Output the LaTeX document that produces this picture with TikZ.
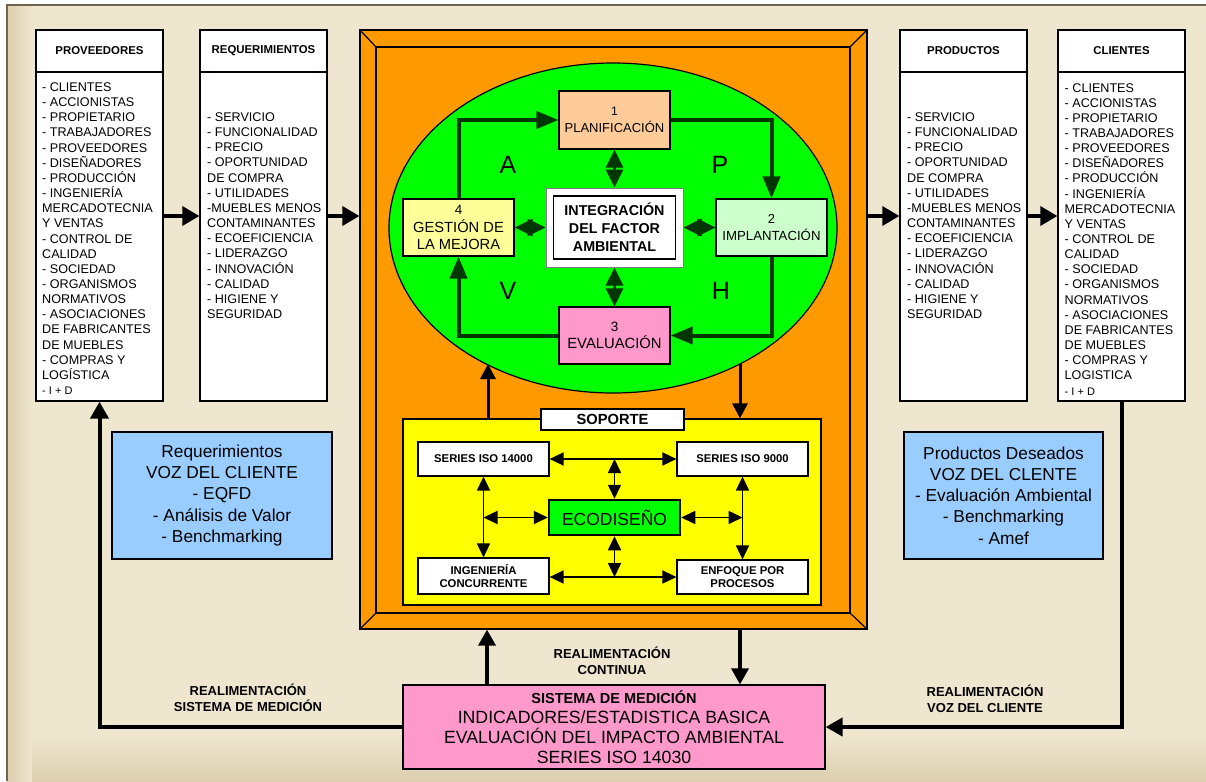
\documentclass[tikz,border=0pt]{standalone}
\usepackage{fontspec}
\setmainfont{Liberation Sans}
\usetikzlibrary{shapes.geometric,arrows.meta,calc}
\definecolor{bg}{HTML}{EFE6CF}
\definecolor{bgdark}{HTML}{DCCFAF}
\definecolor{frameline}{HTML}{6E6450}
\definecolor{orng}{HTML}{FF9900}
\definecolor{ellgreen}{HTML}{00FF00}
\definecolor{dkgreen}{RGB}{0,55,0}
\definecolor{peach}{HTML}{FFCC99}
\definecolor{lyellow}{HTML}{FFFF99}
\definecolor{lgreen}{HTML}{CCFFCC}
\definecolor{pinkbox}{HTML}{FF99CC}
\definecolor{bluebox}{HTML}{99CCFF}
\definecolor{yel}{HTML}{FFFF00}
\begin{document}
\begin{tikzpicture}[x=1pt,y=-1pt]
\tikzset{
 bx/.style={draw, line width=1.3pt, inner sep=0pt, align=center},
 hdr/.style={bx, fill=white, minimum width=127pt, minimum height=42pt, font=\bfseries\fontsize{11.4}{13}\selectfont},
 bodybox/.style={bx, fill=white, minimum width=127pt, minimum height=329pt},
 lst/.style={anchor=north west, inner sep=0pt, align=left, font=\fontsize{12.6}{15.15}\selectfont},
 bigarr/.style={line width=3.5pt, -{Triangle[length=17pt,width=19pt]}},
 cyc/.style={draw=dkgreen, line width=4pt, -{Triangle[length=22pt,width=17pt]}},
 dbl/.style={draw=dkgreen, line width=3pt, {Triangle[length=18pt,width=17pt]}-{Triangle[length=18pt,width=17pt]}},
 sarr/.style={line width=1.6pt, {Triangle[length=14pt,width=13pt]}-{Triangle[length=14pt,width=13pt]}},
 fbarr/.style={line width=4pt, -{Triangle[length=17pt,width=18pt]}},
 lbl/.style={font=\bfseries\fontsize{13}{16}\selectfont, align=center, inner sep=0pt},
 cycbox/.style={bx, line width=1.2pt, minimum width=111pt, minimum height=57pt},
 sopbox/.style={bx, fill=white, line width=1.2pt, minimum width=131pt, minimum height=35pt, font=\bfseries\fontsize{11.3}{13.7}\selectfont},
 bluestyle/.style={bx, fill=bluebox, line width=1.2pt, minimum height=127pt, font=\fontsize{17.3}{21.3}\selectfont},
}
% background
\useasboundingbox (0,0) rectangle (1206,781);
\fill[white] (0,0) rectangle (1206,781);
\fill[bg] (7,5) rectangle (1206,781);
\shade[top color=bg, bottom color=bgdark] (7,735) rectangle (1206,781);
\shade[left color=bgdark, right color=bg] (7,5) rectangle (32,781);
\draw[frameline, line width=1.5pt] (7,781) -- (7,5) -- (1206,5);

% left and right columns
\node[hdr] (provh) at (99.5,51) {PROVEEDORES};
\node[bodybox] (provb) at (99.5,236.5) {};
\node[hdr] (reqh) at (263.5,51) {REQUERIMIENTOS};
\node[bodybox] (reqb) at (263.5,236.5) {};
\node[hdr] (prodh) at (963.5,51) {PRODUCTOS};
\node[bodybox] (prodb) at (963.5,236.5) {};
\node[hdr] (clih) at (1121.5,51) {CLIENTES};
\node[bodybox] (clib) at (1121.5,236.5) {};

\node[lst] (provl) at (42,82.5) {- CLIENTES\\- ACCIONISTAS\\- PROPIETARIO\\- TRABAJADORES\\- PROVEEDORES\\- DISEÑADORES\\- PRODUCCIÓN\\- INGENIERÍA\\MERCADOTECNIA\\Y VENTAS\\- CONTROL DE\\CALIDAD\\- SOCIEDAD\\- ORGANISMOS\\NORMATIVOS\\- ASOCIACIONES\\DE FABRICANTES\\DE MUEBLES\\- COMPRAS Y\\LOGÍSTICA\\{\fontsize{11}{15.15}\selectfont - I + D}};
\node[lst] (clil) at (1064.5,83) {- CLIENTES\\- ACCIONISTAS\\- PROPIETARIO\\- TRABAJADORES\\- PROVEEDORES\\- DISEÑADORES\\- PRODUCCIÓN\\- INGENIERÍA\\MERCADOTECNIA\\Y VENTAS\\- CONTROL DE\\CALIDAD\\- SOCIEDAD\\- ORGANISMOS\\NORMATIVOS\\- ASOCIACIONES\\DE FABRICANTES\\DE MUEBLES\\- COMPRAS Y\\LOGISTICA\\{\fontsize{11}{15.15}\selectfont - I + D}};
\node[lst] (reql) at (207,112.5) {- SERVICIO\\- FUNCIONALIDAD\\- PRECIO\\- OPORTUNIDAD\\DE COMPRA\\- UTILIDADES\\-MUEBLES MENOS\\CONTAMINANTES\\- ECOEFICIENCIA\\- LIDERAZGO\\- INNOVACIÓN\\- CALIDAD\\- HIGIENE Y\\SEGURIDAD};
\node[lst] (prodl) at (907,112.5) {- SERVICIO\\- FUNCIONALIDAD\\- PRECIO\\- OPORTUNIDAD\\DE COMPRA\\- UTILIDADES\\-MUEBLES MENOS\\CONTAMINANTES\\- ECOEFICIENCIA\\- LIDERAZGO\\- INNOVACIÓN\\- CALIDAD\\- HIGIENE Y\\SEGURIDAD};

% orange frame
\node[draw, line width=1.2pt, fill=orng, minimum width=507pt, minimum height=599pt, inner sep=0pt] (frame) at (613.5,329.5) {};
\node[draw, line width=1.2pt, fill=orng, minimum width=474pt, minimum height=566pt, inner sep=0pt] (frin) at (613,330) {};
\draw[line width=1.2pt] (frame.north west) -- (frin.north west);
\draw[line width=1.2pt] (frame.north east) -- (frin.north east);
\draw[line width=1.2pt] (frame.south west) -- (frin.south west);
\draw[line width=1.2pt] (frame.south east) -- (frin.south east);

% arrows between columns
\coordinate (ya) at (0,216);
\draw[bigarr] (provb.east |- ya) -- (reqb.west |- ya);
\draw[bigarr] (reqb.east |- ya) -- (frame.west |- ya);
\draw[bigarr] (frame.east |- ya) -- (prodb.west |- ya);
\draw[bigarr] (prodb.east |- ya) -- (clib.west |- ya);

% ellipse
\node[ellipse, draw, line width=1.2pt, fill=ellgreen, minimum width=448pt, minimum height=330pt, inner sep=0pt] (ell) at (613,228) {};

\node[cycbox, fill=peach, minimum height=58pt, font=\fontsize{13}{16.7}\selectfont] (plan) at (614.5,120) {{\fontsize{12.2}{16.7}\selectfont 1}\\PLANIFICACIÓN};
\node[cycbox, fill=lyellow, font=\fontsize{14.7}{17.5}\selectfont] (gest) at (458.5,227.5) {{\fontsize{13.5}{17.5}\selectfont 4}\\GESTIÓN DE\\LA MEJORA};
\node[cycbox, fill=lgreen, font=\fontsize{13.2}{16.5}\selectfont] (impl) at (771.5,227.5) {{\fontsize{13}{16.5}\selectfont 2}\\IMPLANTACIÓN};
\node[cycbox, fill=pinkbox, font=\fontsize{14.8}{17}\selectfont] (eval) at (614.5,335.5) {{\fontsize{13.5}{17}\selectfont 3}\\EVALUACIÓN};
\node[draw=gray, line width=1pt, fill=white, minimum width=137pt, minimum height=79pt, inner sep=0pt] (integ) at (614.5,227.5) {};
\node[bx, line width=1.2pt, fill=white, minimum width=122pt, minimum height=63pt, font=\bfseries\fontsize{14.3}{18}\selectfont] (integin) at (614.5,227.5) {INTEGRACIÓN\\DEL FACTOR\\AMBIENTAL};

\draw[cyc] (gest.north) |- (plan.west);
\draw[cyc] (plan.east) -| (impl.north);
\draw[cyc] (impl.south) |- (eval.east);
\draw[cyc] (eval.west) -| (gest.south);

\draw[dbl] (plan.south) -- (integ.north);
\draw[dbl] (integ.south) -- (eval.north);
\draw[dbl] (gest.east) -- (integ.west);
\draw[dbl] (integ.east) -- (impl.west);

\node[font=\fontsize{25}{25}\selectfont, inner sep=0pt] (la) at (508,165) {A};
\node[font=\fontsize{25}{25}\selectfont, inner sep=0pt] (lp) at (720,165) {P};
\node[font=\fontsize{25}{25}\selectfont, inner sep=0pt] (lv) at (508,291) {V};
\node[font=\fontsize{25}{25}\selectfont, inner sep=0pt] (lh) at (721,291) {H};

% soporte
\node[bx, fill=yel, line width=1.2pt, minimum width=418pt, minimum height=186pt] (sop) at (612,512) {};
\node[bx, fill=white, line width=1.2pt, minimum width=143pt, minimum height=21pt, font=\bfseries\fontsize{14.7}{16}\selectfont] (soplab) at (612.5,419.5) {SOPORTE};
\node[sopbox, minimum height=34pt] (iso14) at (483.5,459) {SERIES ISO 14000};
\node[sopbox, minimum height=34pt] (iso9) at (742.5,459) {SERIES ISO 9000};
\node[bx, fill=ellgreen, line width=2.5pt, minimum width=131pt, minimum height=35pt, font=\fontsize{17.5}{20}\selectfont] (eco) at (614.5,517.5) {ECODISEÑO};
\node[sopbox, minimum height=36pt] (ing) at (483.5,576) {INGENIERÍA\\CONCURRENTE};
\node[sopbox, minimum height=34pt] (enf) at (742.5,577) {ENFOQUE POR\\PROCESOS};

\coordinate (lm) at (483.5,517.5);
\coordinate (rm) at (742.5,517.5);
\coordinate (tm) at (614.5,459);
\coordinate (bm) at (614.5,577);
\draw[sarr] (iso14.east) -- (iso9.west);
\draw[sarr] (ing.east |- bm) -- (enf.west |- bm);
\draw[sarr] (iso14.south) -- (ing.north);
\draw[sarr] (iso9.south) -- (enf.north);
\draw[sarr] (lm) -- (eco.west);
\draw[sarr] (eco.east) -- (rm);
\draw[sarr] (tm) -- (eco.north);
\draw[sarr] (eco.south) -- (bm);

% ellipse <-> soporte
\coordinate (eup) at (488,364);
\coordinate (edn) at (740,364);
\draw[line width=3pt, -{Triangle[length=15pt,width=15pt]}] (sop.north -| eup) -- (eup);
\draw[line width=3pt, -{Triangle[length=15pt,width=15pt]}] (edn) -- (sop.north -| edn);

% blue boxes
\node[bluestyle, minimum width=220pt] (bl) at (222,495.5) {Requerimientos\\VOZ DEL CLIENTE\\- EQFD\\- Análisis de Valor\\- Benchmarking};
\node[bluestyle, minimum width=199pt] (br) at (1003.5,495.5) {Productos Deseados\\VOZ DEL CLENTE\\- Evaluación Ambiental\\- Benchmarking\\- Amef};

% medicion
\node[bx, fill=pinkbox, line width=1.2pt, minimum width=422pt, minimum height=84pt, font=\fontsize{17.7}{20}\selectfont] (med) at (614,727) {{\bfseries\fontsize{14.5}{17}\selectfont SISTEMA DE MEDICIÓN}\\INDICADORES/ESTADISTICA BASICA\\EVALUACIÓN DEL IMPACTO AMBIENTAL\\SERIES ISO 14030};

\coordinate (xu) at (487,0);
\coordinate (xd) at (740,0);
\draw[line width=3.5pt, -{Triangle[length=16pt,width=17pt]}] (med.north -| xu) -- (frame.south -| xu);
\draw[line width=3.5pt, -{Triangle[length=16pt,width=17pt]}] (frame.south -| xd) -- (med.north -| xd);

\draw[fbarr] (med.west) -| (provb.south);
\draw[fbarr] (clib.south) |- (med.east);

\node[lbl] (l1) at (612,661) {REALIMENTACIÓN\\CONTINUA};
\node[lbl] (l2) at (248,698) {REALIMENTACIÓN\\SISTEMA DE MEDICIÓN};
\node[lbl] (l3) at (985,699) {REALIMENTACIÓN\\VOZ DEL CLIENTE};
\end{tikzpicture}
\end{document}
